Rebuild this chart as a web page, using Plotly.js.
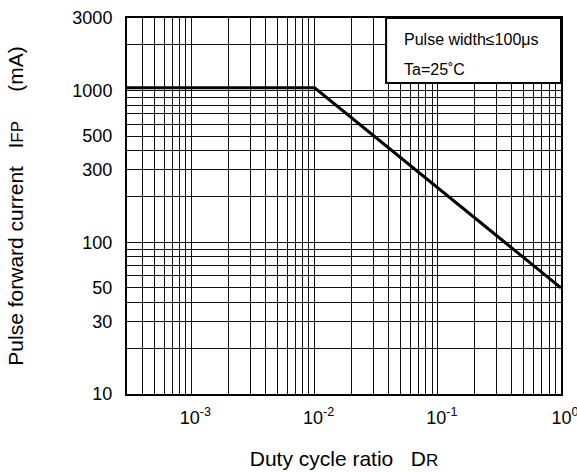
<!DOCTYPE html>
<html>
<head>
<meta charset="utf-8">
<script src="https://cdn.plot.ly/plotly-3.0.1.min.js"></script>
<style>html,body{margin:0;padding:0;background:#fff;}#chart{width:577px;height:472px;}</style>
</head>
<body>
<div id="chart"></div>
<script>
// Data
const dutyRatio = [0.0003, 0.01, 1];
const pulseCurrent = [1040, 1040, 50];
const xTickVals = [0.001, 0.01, 0.1, 1];
const xTickText = ['10<sup>-3</sup>', '10<sup>-2</sup>', '10<sup>-1</sup>', '10<sup>0</sup>'];
const yTickVals = [10, 30, 50, 100, 300, 500, 1000, 3000];
const yTickText = ['10', '30', '50', '100', '300', '500', '1000', '3000'];
const noteLines = ['Pulse width≤100μs', 'Ta=25˚C'];

const font = 'Liberation Sans, Arial, Helvetica, sans-serif';
const nb = n => '\u00A0'.repeat(n);

const trace = {
  x: dutyRatio, y: pulseCurrent, type: 'scatter', mode: 'lines',
  line: {color: '#000', width: 3}, hoverinfo: 'skip', showlegend: false
};

const gridC = '#111';
const layout = {
  width: 577, height: 472,
  margin: {l: 127, r: 16, t: 18, b: 78},
  paper_bgcolor: '#fff', plot_bgcolor: '#fff',
  font: {family: font, color: '#000', size: 18},
  showlegend: false,
  xaxis: {
    type: 'log', range: [Math.log10(0.0003), 0],
    tickmode: 'array', tickvals: xTickVals, ticktext: xTickText,
    ticks: '', showgrid: true, gridcolor: gridC, gridwidth: 1,
    minor: {dtick: 'D1', showgrid: true, gridcolor: gridC, gridwidth: 1, ticks: ''},
    showline: true, mirror: true, linecolor: '#000', linewidth: 2,
    zeroline: false, tickfont: {size: 18, family: font},
    ticklabelshift: 4, ticklabelstandoff: 6, ticklabeloverflow: 'allow',
    title: {text: 'Duty cycle ratio' + nb(3) + 'D<span style="font-size:17px">R</span>', font: {size: 21, family: font}, standoff: 25}
  },
  yaxis: {
    type: 'log', range: [1, Math.log10(3000)],
    tickmode: 'array', tickvals: yTickVals, ticktext: yTickText,
    ticks: '', showgrid: true, gridcolor: gridC, gridwidth: 1,
    minor: {dtick: 'D1', showgrid: true, gridcolor: gridC, gridwidth: 1, ticks: ''},
    showline: true, mirror: true, linecolor: '#000', linewidth: 2,
    zeroline: false, tickfont: {size: 18, family: font},
    ticklabelstandoff: 9, ticklabeloverflow: 'allow',
    title: {text: nb(2) + 'Pulse forward current' + nb(3) + 'I<span style="font-size:17px">FP</span>' + nb(5) + '(mA)', font: {size: 21, family: font}, standoff: 43}
  },
  shapes: [{
    type: 'rect', xref: 'paper', yref: 'paper',
    x0: 0.597, x1: 1.0, y0: 0.827, y1: 1.0,
    fillcolor: '#fff', line: {color: '#000', width: 2}, layer: 'above'
  }],
  annotations: [
    {xref: 'paper', yref: 'paper', x: 0.634, y: 0.944, xanchor: 'left', yanchor: 'middle',
     text: noteLines[0], showarrow: false, font: {size: 16, family: font}},
    {xref: 'paper', yref: 'paper', x: 0.634, y: 0.862, xanchor: 'left', yanchor: 'middle',
     text: noteLines[1], showarrow: false, font: {size: 16, family: font}}
  ]
};

Plotly.newPlot('chart', [trace], layout, {staticPlot: true, displayModeBar: false});
</script>
</body>
</html>
